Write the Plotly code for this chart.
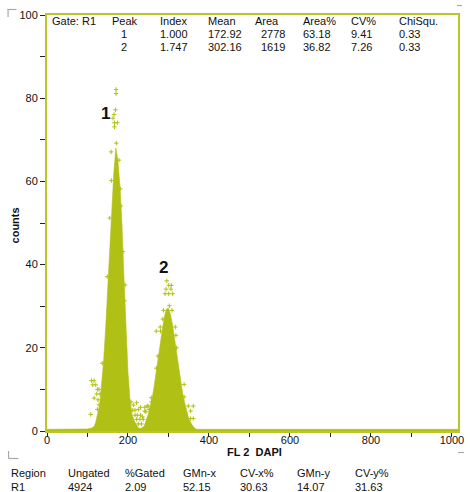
import plotly.graph_objects as go

# ---------------- data ----------------
# histogram envelope (channel, counts)
fill_x = [0, 95, 100, 110, 116, 120, 125, 130, 135, 140, 145, 150, 155, 160, 165, 170,
          175, 180, 185, 190, 195, 200, 205, 210, 215, 220, 225, 230, 235, 240, 245,
          250, 255, 260, 265, 270, 275, 280, 285, 290, 295, 300, 305, 310, 315, 320,
          325, 330, 335, 340, 345, 350, 355, 360, 366, 370, 1015]
fill_y = [0.4, 0.4, 0.5, 0.7, 1.0, 2.0, 3.8, 6.2, 11.5, 17, 25, 34, 45, 54, 62, 68,
          65, 59, 50, 37, 23, 14, 7.5, 4, 2.5, 1.5, 0.8, 0.6, 0.8, 1.2, 2.5,
          4, 6, 8, 11, 14.7, 17.8, 21, 24.5, 27.5, 29.3, 29.5, 28, 25.5, 22, 18.3,
          15.5, 12, 9, 6.8, 4.5, 3, 2, 1.2, 0.6, 0.4, 0.4]

# individual channel counts that stand out from the envelope
pts_x = [170.5, 170.5, 169, 165.6, 163, 166.5, 173.8, 166.5, 171.3, 158.4, 177.8, 159, 181,
         182.6, 155, 187.5, 148.7, 193, 191.5,
         110, 116.4, 113, 120.4, 124.5, 128.5, 122.8, 131, 116.4, 126, 128.5, 124.5, 108, 136.6,
         195.6, 207.7, 213.3, 221.4, 211.7, 217.4, 225.5, 231, 241.6, 249.7, 257.7, 217.4, 223,
         231, 236, 221.4, 229.5, 237.6, 225.5, 233.5, 244, 252,
         295.8, 300.6, 307, 294, 306, 291.6, 300.6, 310.3, 302.2, 287.7, 308.6, 286, 279.6,
         316.8, 269.9, 280.4, 318.4, 320, 274,
         270, 338.6, 326.5, 257.7, 247.3, 241.6, 349, 361.2, 354.7, 354.7, 361.2, 338.6]
pts_y = [82.1, 81.1, 77.2, 76.1, 75.2, 74.1, 74.1, 73.1, 69.2, 67.1, 65.1, 60.2, 58.2,
         54.1, 51.2, 43.1, 37.1, 35.1, 31.3,
         12.1, 12.1, 11.1, 11.1, 10, 10, 8.9, 8.9, 7.9, 7.5, 6.3, 5.2, 4, 16.3,
         6.25, 7.0, 6.25, 6.8, 5.0, 5.0, 5.2, 5.7, 5.7, 6.0, 7.0, 3.8, 3.8,
         3.8, 3.4, 2.8, 2.8, 2.8, 1.7, 1.7, 4.6, 5.2,
         36.1, 35.0, 35.0, 34.1, 34.1, 33.0, 33.0, 33.0, 30.1, 29.0, 29.0, 26.9, 25.0,
         25.0, 24.0, 24.0, 23.0, 20.0, 18.0,
         15.1, 11.2, 11.2, 8.0, 6.0, 4.8, 6.0, 6.0, 4.8, 3.0, 3.0, 8.2]

peak_labels = ["1", "2"]
peak_label_x = [145.5, 288.5]
peak_label_y = [76.4, 39.4]

x_tick_vals = [0, 100, 200, 300, 400, 500, 600, 700, 800, 900, 1000]
x_tick_text = ["0", "", "200", "", "400", "", "600", "", "800", "", "1000"]
y_tick_vals = [0, 10, 20, 30, 40, 50, 60, 70, 80, 90, 100]
y_tick_text = ["0", "", "20", "", "40", "", "60", "", "80", "", "100"]

top_header = ["Gate: R1", "Peak", "Index", "Mean", "Area", "Area%", "CV%", "ChiSqu."]
top_row1 = ["", "1", "1.000", "172.92", "2778", "63.18", "9.41", "0.33"]
top_row2 = ["", "2", "1.747", "302.16", "1619", "36.82", "7.26", "0.33"]

bot_header = ["Region", "Ungated", "%Gated", "GMn-x", "CV-x%", "GMn-y", "CV-y%"]
bot_row = ["R1", "4924", "2.09", "52.15", "30.63", "14.07", "31.63"]

# ---------------- styles ----------------
GREEN = "#b0c014"
BOX = "#b9c728"
FONT = "Liberation Sans"
W, H = 470, 492
L, R, T, B = 47, 464, 15, 431


def px2paper_x(px):
    return (px - L) / (R - L)


def px2paper_y(py):
    return (B - py) / (B - T)


fig = go.Figure()
fig.add_trace(go.Scatter(x=fill_x, y=fill_y, mode="lines", fill="tozeroy",
                         line=dict(color=GREEN, width=0.6), fillcolor=GREEN,
                         hoverinfo="skip", showlegend=False))
fig.add_trace(go.Scatter(x=pts_x, y=pts_y, mode="markers",
                         marker=dict(symbol="cross-thin", size=3.2,
                                     line=dict(color=GREEN, width=1)),
                         showlegend=False))

for t, x, y in zip(peak_labels, peak_label_x, peak_label_y):
    fig.add_annotation(x=x, y=y, text="<b>%s</b>" % t, showarrow=False,
                       font=dict(family=FONT, size=17, color="#111"),
                       xanchor="center", yanchor="middle")

annos = []
top_cols = [50, 111, 160, 208, 256, 305, 353, 402]
top_rows_y = [21, 34, 47]
for i, h in enumerate(top_header):
    annos.append((top_cols[i], top_rows_y[0], h, "left"))
for ri, row in enumerate([top_row1, top_row2]):
    for i, v in enumerate(row):
        if not v:
            continue
        if i == 1:
            annos.append((120, top_rows_y[ri + 1], v, "left"))
        elif i == 4:
            annos.append((291, top_rows_y[ri + 1], v, "right"))
        else:
            annos.append((top_cols[i], top_rows_y[ri + 1], v, "left"))

bot_cols = [8, 66, 124, 183, 241, 299, 357]
for i, h in enumerate(bot_header):
    annos.append((bot_cols[i], 473, h, "left"))
for i, v in enumerate(bot_row):
    annos.append((bot_cols[i], 487, v, "left"))

for px, py, txt, anc in annos:
    fig.add_annotation(xref="paper", yref="paper", x=px2paper_x(px), y=px2paper_y(py),
                       text=txt, showarrow=False, xanchor=anc, yanchor="middle",
                       font=dict(family=FONT, size=11, color="#111"))

fig.add_annotation(xref="paper", yref="paper", x=px2paper_x(258), y=px2paper_y(452),
                   text="<b>FL 2  DAPI</b>", showarrow=False, xanchor="center", yanchor="middle",
                   font=dict(family=FONT, size=11, color="#111"))
fig.add_annotation(xref="paper", yref="paper", x=px2paper_x(15), y=px2paper_y(225),
                   text="<b>counts</b>", showarrow=False, textangle=-90,
                   xanchor="center", yanchor="middle",
                   font=dict(family=FONT, size=11, color="#111"))

# corner marks
GRAY = "#a8a8a8"
segs = [((7.5, 9), (7.5, 17)), ((7, 9.5), (16, 9.5)),
        ((8, 451), (8, 458.5)), ((8, 458.5), (18, 458.5)),
        ((463, 5.5), (468, 5.5)), ((464, 452.5), (470, 452.5))]
for (x0, y0), (x1, y1) in segs:
    fig.add_shape(type="line", xref="paper", yref="paper",
                  x0=px2paper_x(x0), y0=px2paper_y(y0), x1=px2paper_x(x1), y1=px2paper_y(y1),
                  line=dict(color=GRAY, width=1.2))

fig.update_xaxes(range=[0, 1015], tickvals=x_tick_vals, ticktext=x_tick_text,
                 ticks="outside", ticklen=4, tickcolor="#222", tickwidth=1,
                 ticklabelstandoff=-6,
                 showline=True, linecolor=BOX, linewidth=2, mirror=True,
                 showgrid=False, zeroline=False,
                 tickfont=dict(family=FONT, size=11, color="#111"))
fig.update_yaxes(range=[0, 100], tickvals=y_tick_vals, ticktext=y_tick_text,
                 ticks="outside", ticklen=5, tickcolor="#222", tickwidth=1,
                 showline=True, linecolor=BOX, linewidth=2, mirror=True,
                 showgrid=False, zeroline=False,
                 tickfont=dict(family=FONT, size=11, color="#111"))

fig.update_layout(width=W, height=H, margin=dict(l=L, r=W - R, t=T, b=H - B),
                  plot_bgcolor="white", paper_bgcolor="white", showlegend=False)

fig.write_html("out.html")
